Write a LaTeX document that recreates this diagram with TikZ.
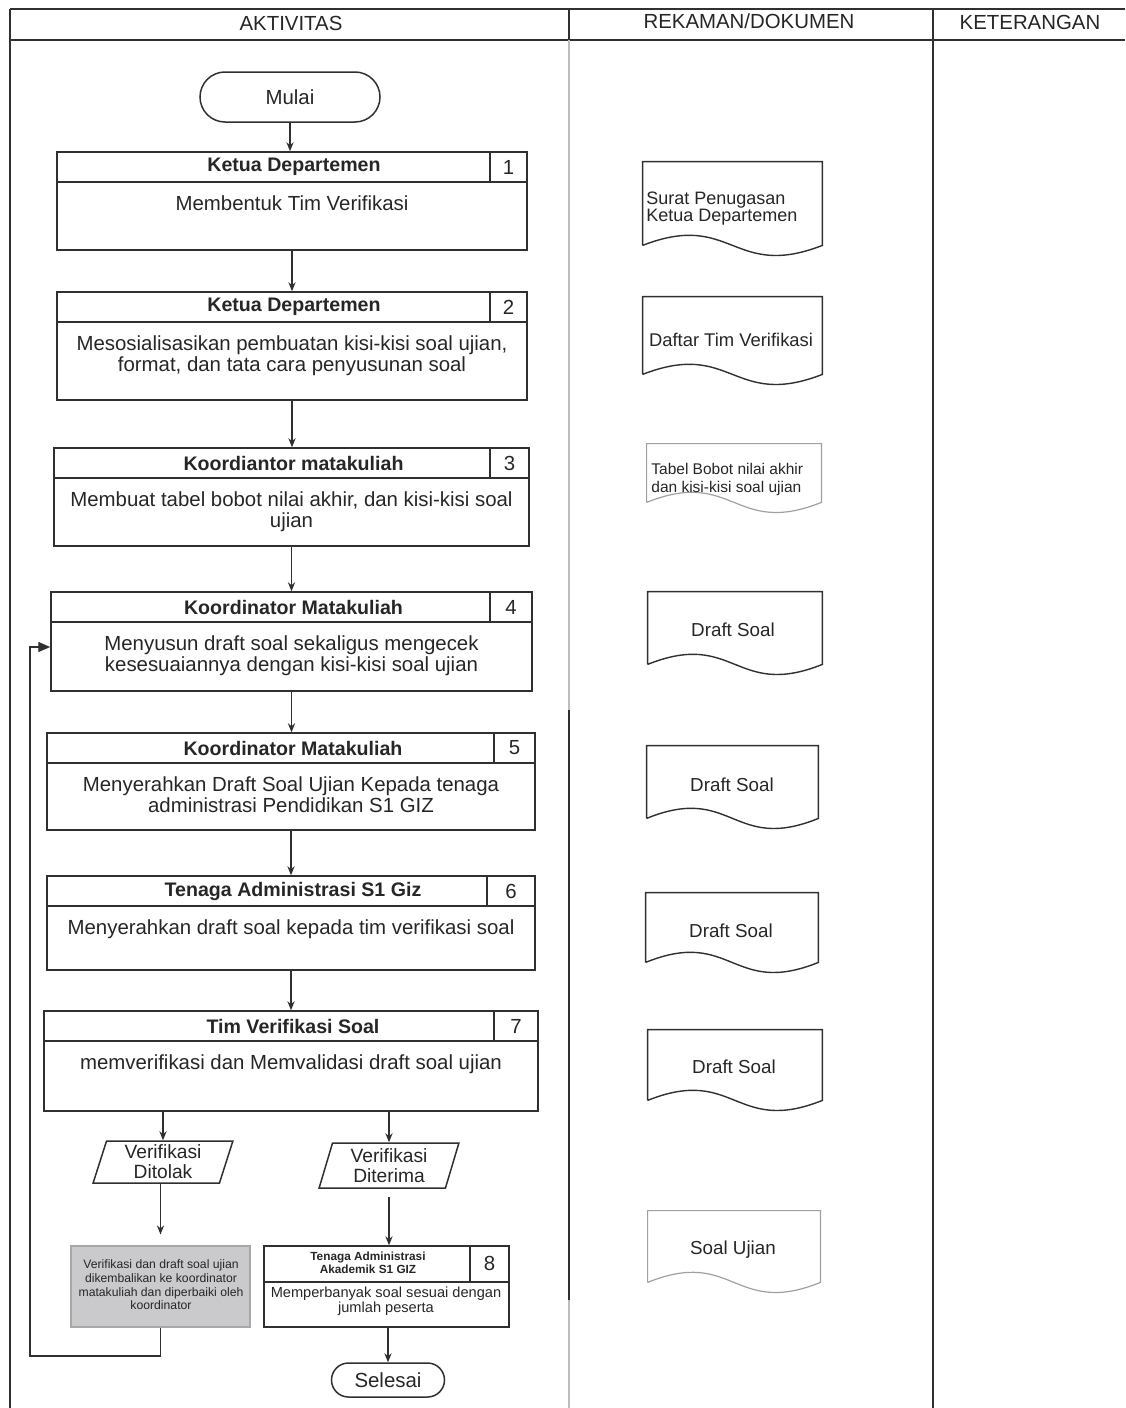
\documentclass[tikz,border=0pt]{standalone}
\usepackage{fontspec}
\setmainfont{Liberation Sans}
\usetikzlibrary{arrows.meta,shapes.geometric,shapes.misc,fit,calc}
\definecolor{ink}{HTML}{262626}
\definecolor{lin}{HTML}{303030}
\definecolor{grayfill}{HTML}{CACACC}
\definecolor{grayline}{HTML}{A8A8A8}
\definecolor{colgray}{HTML}{BDBDBD}
\definecolor{docgray}{HTML}{A0A0A0}

\newcommand\procbox[9]{%
  \node[boxfit, fit={(#2,#3) (#4,#5)}] (#1) {};
  \draw[ln] (#2,#3+30) -- (#4,#3+30);
  \draw[ln] (#6,#3) -- (#6,#3+30);
  \node[hdr] (#1h) at ({(#2+#4)/2+2},#3+15) {#7};
  \node (#1n) at ({(#6+#4)/2},#3+15) {#8};
  \node[body] (#1t) at ({(#2+#4)/2},#3+43) {#9};
}

\begin{document}
\begin{tikzpicture}[x=0.5pt,y=-0.5pt,
  every node/.style={text=ink, font=\fontsize{10.2}{10.6}\selectfont},
  ln/.style={draw=lin, line width=0.75pt},
  arr/.style={draw=lin, line width=0.7pt, -{Stealth[length=4.5pt,width=3.6pt]}},
  boxfit/.style={draw=lin, line width=0.75pt, inner sep=0pt},
  hdr/.style={font=\bfseries\fontsize{9.8}{11}\selectfont},
  body/.style={align=center, anchor=north, inner sep=0pt},
  term/.style={rounded rectangle, draw=lin, line width=0.75pt, inner sep=0pt},
  para/.style={trapezium, trapezium left angle=75, trapezium right angle=105,
    trapezium stretches=true, draw=lin, line width=0.75pt, align=center,
    inner sep=0pt, font=\fontsize{9.6}{10}\selectfont},
  docfit/.style={inner sep=0pt},
  docl/.style={draw=lin, line width=0.7pt},
  docll/.style={draw=docgray, line width=0.6pt},
  doctext/.style={text=ink, inner sep=0pt, font=\fontsize{9.2}{8.6}\selectfont},
]
\useasboundingbox (0,0) rectangle (1125,1408);

% table
\draw[ln] (10,9) -- (1125,9);
\draw[ln] (10,40) -- (1125,40);
\draw[ln] (10,9) -- (10,1408);
\draw[ln] (569,9) -- (569,40);
\draw[draw=colgray, line width=1pt] (569,40) -- (569,710);
\draw[ln] (569,710) -- (569,1300);
\draw[draw=colgray, line width=1pt] (569,1300) -- (569,1408);
\draw[ln] (933,9) -- (933,1408);
\node (hA) at (291,23) {AKTIVITAS};
\node (hR) at (749,21) {REKAMAN/DOKUMEN};
\node (hK) at (1030,22) {KETERANGAN};

% start
\node[term, minimum width=90pt, minimum height=25pt] (mulai) at (290,97) {Mulai};

\procbox{b1}{57}{152}{527}{250}{490}{Ketua Departemen}{1}{Membentuk Tim Verifikasi}
\procbox{b2}{57}{292}{527}{400}{490}{Ketua Departemen}{2}{Mesosialisasikan pembuatan kisi-kisi soal ujian,\\format, dan tata cara penyusunan soal}
\procbox{b3}{54}{448}{529}{546}{490}{Koordiantor matakuliah}{3}{Membuat tabel bobot nilai akhir, dan kisi-kisi soal\\ujian}
\procbox{b4}{51}{592}{532}{691}{490}{Koordinator Matakuliah}{4}{Menyusun draft soal sekaligus mengecek\\kesesuaiannya dengan kisi-kisi soal ujian}
\procbox{b5}{47}{733}{535}{830}{494}{Koordinator Matakuliah}{5}{Menyerahkan Draft Soal Ujian Kepada tenaga\\administrasi Pendidikan S1 GIZ}
\procbox{b6}{47}{876}{535}{970}{487}{Tenaga Administrasi S1 Giz}{6}{Menyerahkan draft soal kepada tim verifikasi soal}
\procbox{b7}{44}{1011}{538}{1111}{494}{Tim Verifikasi Soal}{7}{memverifikasi dan Memvalidasi draft soal ujian}

% decisions
\node[para, minimum width=70pt, minimum height=21pt] (dtl) at (163,1162) {Verifikasi\\Ditolak};
\node[para, minimum width=70pt, minimum height=22.5pt] (dtr) at (389,1165.5) {Verifikasi\\Diterima};

% grey box
\node[fit={(71,1246) (250,1327)}, fill=grayfill, draw=grayline, line width=0.6pt, inner sep=0pt] (gb) {};
\node[align=center, inner sep=0pt, text=ink, font=\fontsize{6.1}{6.8}\selectfont] (gbt) at (161,1285)
  {Verifikasi dan draft soal ujian\\dikembalikan ke koordinator\\matakuliah dan diperbaiki oleh\\koordinator};

% box 8
\node[boxfit, fit={(264,1246) (509,1327)}] (b8) {};
\draw[ln] (264,1282) -- (509,1282);
\draw[ln] (470,1246) -- (470,1282);
\node[align=center, inner sep=0pt, font=\bfseries\fontsize{5.9}{6.7}\selectfont] (b8h) at (368,1263) {Tenaga Administrasi\\Akademik S1 GIZ};
\node (b8n) at (489.5,1263) {8};
\node[align=center, inner sep=0pt, font=\fontsize{7.3}{7.6}\selectfont] (b8t) at (386,1301) {Memperbanyak soal sesuai dengan\\jumlah peserta};

% end
\node[term, minimum width=56.5pt, minimum height=17pt] (sel) at (388,1380) {Selesai};

% connectors
\draw[arr] (mulai.south) -- (mulai.south |- b1.north);
\draw[arr] (b1.south) -- (b1.south |- b2.north);
\draw[arr] (b2.south) -- (b2.south |- b3.north);
\draw[arr] (b3.south) -- (b3.south |- b4.north);
\draw[arr] (b4.south) -- (b4.south |- b5.north);
\draw[arr] (b5.south) -- (b5.south |- b6.north);
\draw[arr] (b6.south) -- (b6.south |- b7.north);
\draw[arr] (b7.south -| dtl.north) -- (dtl.north);
\draw[arr] (b7.south -| dtr.north) -- (dtr.north);
\draw[arr, shorten >=5.5pt] (gb.north |- dtl.south) -- (gb.north);
\draw[arr, shorten <=4pt] (dtr.south) -- (dtr.south |- b8.north);
\draw[arr] (b8.south -| sel.north) -- (sel.north);
\coordinate (lp) at (30,1356);
\coordinate (lq) at (30,647);
\draw[ln, line width=0.7pt, -{Triangle[length=6pt,width=5pt]}] (gb.south) |- (lp) -- (lq) -- (lq -| b4.west);

% documents
\node[docfit, fit={(643,162) (822,245)}] (d1) {};
\node[docfit, fit={(643,297) (822,374)}] (d2) {};
\node[docfit, fit={(647,444) (821,502)}] (d3) {};
\node[docfit, fit={(648,592) (822,664)}] (d4) {};
\node[docfit, fit={(647,746) (818,818)}] (d5) {};
\node[docfit, fit={(646,893) (818,962)}] (d6) {};
\node[docfit, fit={(648,1030) (822,1100)}] (d7) {};
\node[docfit, fit={(648,1211) (820,1282)}] (d8) {};
\foreach \d in {d1,d2,d4,d5,d6,d7}{
  \draw[docl] (\d.south west) -- (\d.north west) -- (\d.north east) -- (\d.south east)
    .. controls ($(\d.south)+(0,35)$) and ($(\d.south)+(0,-35)$) .. (\d.south west);
}
\foreach \d in {d3,d8}{
  \draw[docll] (\d.south west) -- (\d.north west) -- (\d.north east) -- (\d.south east)
    .. controls ($(\d.south)+(0,35)$) and ($(\d.south)+(0,-35)$) .. (\d.south west);
}
\node[doctext, align=left, anchor=west, font=\fontsize{9}{8.5}\selectfont] (d1t) at (646,208.5) {Surat Penugasan\\Ketua Departemen};
\node[doctext] (d2t) at (731,340) {Daftar Tim Verifikasi};
\node[doctext, align=left, anchor=west, font=\fontsize{7.75}{9}\selectfont] (d3t) at (651,479) {Tabel Bobot nilai akhir\\dan kisi-kisi soal ujian};
\node[doctext, font=\fontsize{9.4}{10}\selectfont] (d4t) at (733,630) {Draft Soal};
\node[doctext, font=\fontsize{9.4}{10}\selectfont] (d5t) at (732,785) {Draft Soal};
\node[doctext, font=\fontsize{9.4}{10}\selectfont] (d6t) at (731,931) {Draft Soal};
\node[doctext, font=\fontsize{9.4}{10}\selectfont] (d7t) at (734,1067) {Draft Soal};
\node[doctext, font=\fontsize{9.4}{10}\selectfont] (d8t) at (733,1250) {Soal Ujian};
\end{tikzpicture}
\end{document}
